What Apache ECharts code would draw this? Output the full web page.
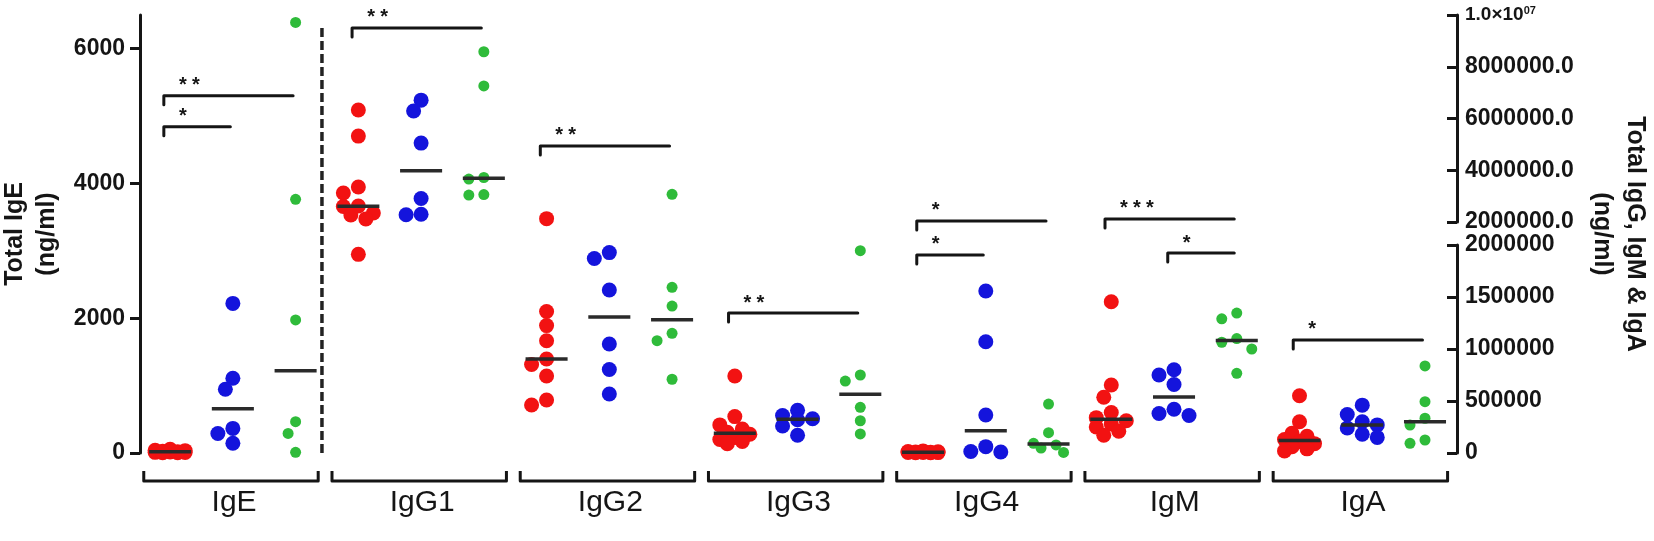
<!DOCTYPE html>
<html><head><meta charset="utf-8">
<script src="https://cdn.jsdelivr.net/npm/echarts@6/dist/echarts.min.js"></script>
<style>html,body{margin:0;padding:0;background:#fff}#c{width:1654px;height:541px}</style>
</head><body><div id="c"></div>
<script>
// ---------- data (ng/ml) ----------
const isotypes = ['IgE', 'IgG1', 'IgG2', 'IgG3', 'IgG4', 'IgM', 'IgA'];

const IgE_red   = [55, 40, 35, 25, 20, 15, 10, 8, 5, 3];
const IgE_blue  = [2220, 1110, 945, 365, 290, 145];
const IgE_green = [6390, 3765, 1975, 465, 290, 10];

const IgG1_red   = [6330000, 5320000, 3350000, 3120000, 2620000, 2600000, 2350000, 2270000, 2120000, 1910000];
const IgG1_blue  = [6710000, 6290000, 5050000, 2910000, 2300000, 2280000];
const IgG1_green = [8580000, 7260000, 3720000, 3660000, 3060000, 3040000];

const IgG2_red   = [2130000, 1360000, 1225000, 1080000, 904000, 851000, 740000, 510000, 462000];
const IgG2_blue  = [1927000, 1870000, 1567000, 1048000, 803000, 567000];
const IgG2_green = [3070000, 1593000, 1413000, 1151000, 1080000, 709000];

const IgG3_red   = [740000, 350000, 270000, 230000, 200000, 180000, 150000, 130000, 110000, 90000];
const IgG3_blue  = [410000, 360000, 330000, 320000, 260000, 170000];
const IgG3_green = [1945000, 750000, 692000, 439000, 310000, 183000];

const IgG4_red   = [20000, 15000, 12000, 10000, 8000, 6000, 5000, 4000, 3000, 2000];
const IgG4_blue  = [1558000, 1070000, 365000, 61000, 15000, 10000];
const IgG4_green = [471000, 195000, 93000, 78000, 48000, 5000];

const IgM_red   = [1455000, 654000, 536000, 390000, 340000, 310000, 280000, 250000, 210000, 170000];
const IgM_blue  = [800000, 750000, 658000, 420000, 380000, 360000];
const IgM_green = [1346000, 1290000, 1100000, 1065000, 1000000, 766000];

const IgA_red   = [550000, 300000, 190000, 160000, 130000, 110000, 90000, 60000, 40000, 20000];
const IgA_blue  = [460000, 370000, 300000, 270000, 240000, 180000, 150000];
const IgA_green = [837000, 493000, 334000, 269000, 125000, 93000];

// significance comparisons
const sigIsotype = ['IgE', 'IgE', 'IgG1', 'IgG2', 'IgG3', 'IgG4', 'IgG4', 'IgM', 'IgM', 'IgA'];
const sigFrom    = [0, 0, 0, 0, 0, 0, 0, 0, 1, 0];
const sigTo      = [2, 1, 2, 2, 2, 2, 1, 2, 2, 2];
const sigLevel   = [5300, 4840, 9500000, 4940000, 1346000, 2040000, 1904000, 2120000, 1923000, 1087000];
const sigStars   = ['**', '*', '**', '**', '**', '*', '*', '***', '*', '*'];

// axis ticks
const leftTicks = [0, 2000, 4000, 6000];
const rightUpperTicks = [2000000, 4000000, 6000000, 8000000, 10000000];
const rightLowerTicks = [0, 500000, 1000000, 1500000, 2000000];

// ---------- build ----------
const table = {
  IgE: [IgE_red, IgE_blue, IgE_green], IgG1: [IgG1_red, IgG1_blue, IgG1_green],
  IgG2: [IgG2_red, IgG2_blue, IgG2_green], IgG3: [IgG3_red, IgG3_blue, IgG3_green],
  IgG4: [IgG4_red, IgG4_blue, IgG4_green], IgM: [IgM_red, IgM_blue, IgM_green],
  IgA: [IgA_red, IgA_blue, IgA_green]
};
const COLORS = ['#f21212', '#1414dc', '#2fbb3a'];
const SIZES = [15, 15, 11];
const INK = '#151515';
const FONT = '"Liberation Sans", Arial, sans-serif';
const BREAK = 2000000;
const X_MIN = -0.48, X_MAX = 20.51;

const columns = [];
isotypes.forEach((iso, g) => table[iso].forEach((vals, c) =>
  columns.push({ col: 3 * g + c, cohort: c, left: iso === 'IgE', values: vals })));

function gridOf(left, v) { return left ? 0 : (v > BREAK ? 1 : 2); }
function median(a) {
  const s = a.slice().sort((x, y) => x - y); const n = s.length;
  return n % 2 ? s[(n - 1) / 2] : (s[n / 2 - 1] + s[n / 2]) / 2;
}

function pointSeries(offsets) {
  const out = [];
  for (let c = 0; c < 3; c++) for (let gi = 0; gi < 3; gi++) {
    const data = [];
    columns.filter(k => k.cohort === c).forEach(k => k.values.forEach((v, i) => {
      if (gridOf(k.left, v) === gi) data.push([k.col + (offsets ? offsets[k.col][i] : 0), v]);
    }));
    out.push({ type: 'scatter', xAxisIndex: gi, yAxisIndex: gi, data, symbolSize: SIZES[c],
      itemStyle: { color: COLORS[c], opacity: 1 }, clip: false, z: 2, silent: true, animation: false });
  }
  return out;
}

function medianSeries(gi) {
  const items = columns.map(k => [k.col, median(k.values), k.left])
    .filter(o => gridOf(o[2], o[1]) === gi).map(o => [o[0], o[1]]);
  return { type: 'custom', xAxisIndex: gi, yAxisIndex: gi, z: 5, silent: true, animation: false, data: items,
    renderItem(p, api) {
      const a = api.coord([api.value(0) - 0.335, api.value(1)]);
      const b = api.coord([api.value(0) + 0.335, api.value(1)]);
      return { type: 'line', shape: { x1: a[0], y1: a[1], x2: b[0], y2: b[1] }, style: { stroke: '#2a2a2a', lineWidth: 3.5 } };
    } };
}

function sigSeries(gi) {
  const items = [];
  sigIsotype.forEach((iso, i) => {
    const g = isotypes.indexOf(iso);
    const gridI = iso === 'IgE' ? 0 : (sigLevel[i] > BREAK ? 1 : 2);
    if (gridI !== gi) return;
    items.push({ from: 3 * g + sigFrom[i] - 0.1, to: 3 * g + sigTo[i] - 0.04, level: sigLevel[i], stars: sigStars[i] });
  });
  return { type: 'custom', xAxisIndex: gi, yAxisIndex: gi, z: 4, silent: true, animation: false,
    data: items.map(s => [s.from, s.level, s.to]),
    renderItem(p, api) {
      const s = items[p.dataIndex];
      const a = api.coord([api.value(0), api.value(1)]);
      const b = api.coord([api.value(2), api.value(1)]);
      const children = [{ type: 'polyline', shape: { points: [[a[0], a[1] + 9], [a[0], a[1]], [b[0], b[1]]] },
        style: { stroke: INK, lineWidth: 3, fill: null, lineJoin: 'round', lineCap: 'round' } }];
      const sx = api.coord([s.from + 0.24, s.level])[0];
      for (let k = 0; k < s.stars.length; k++) {
        children.push({ type: 'text', x: sx + k * 13, y: a[1] - 10,
          style: { text: '*', fontSize: 20, fontWeight: 'bold', fontFamily: FONT, fill: INK, align: 'left', verticalAlign: 'middle' } });
      }
      return { type: 'group', children };
    } };
}

const groupBracket = {
  type: 'custom', xAxisIndex: 0, yAxisIndex: 0, z: 3, silent: true, animation: false,
  data: isotypes.map((_, g) => [3 * g - 0.42, 0, 3 * g + 2.36]),
  renderItem(p, api) {
    const a = api.coord([api.value(0), 0]), b = api.coord([api.value(2), 0]);
    return { type: 'polyline', shape: { points: [[a[0], a[1] + 18], [a[0], a[1] + 28], [b[0], b[1] + 28], [b[0], b[1] + 18]] },
      style: { stroke: INK, lineWidth: 3, fill: null, lineJoin: 'round' } };
  }
};

const divider = {
  type: 'line', xAxisIndex: 0, yAxisIndex: 0, data: [[2.42, 0], [2.42, 6350]], symbol: 'none', silent: true,
  animation: false, lineStyle: { color: '#222', width: 3.5, type: [9, 4] }, z: 3
};

const axisLine = { show: true, onZero: false, lineStyle: { color: INK, width: 3 } };
const tickLabelStyle = { fontSize: 23, fontWeight: 'bold', color: INK, fontFamily: FONT };
const gridBase = { left: 140, right: 197, containLabel: false, outerBoundsMode: 'none' };

function buildOption(offsets) {
  return {
    backgroundColor: '#fff',
    animation: false,
    grid: [
      Object.assign({ top: 15, bottom: 88 }, gridBase),
      Object.assign({ top: 15, height: 207 }, gridBase),
      Object.assign({ top: 245, bottom: 88 }, gridBase)
    ],
    xAxis: [0, 1, 2].map(i => ({ type: 'value', gridIndex: i, min: X_MIN, max: X_MAX, show: false, position: 'top' }))
      .concat([{ type: 'category', gridIndex: 0, data: isotypes, position: 'bottom',
        axisLine: { show: false }, axisTick: { show: false },
        axisLabel: { fontSize: 30, color: INK, margin: 35, fontFamily: FONT } }]),
    yAxis: [
      { type: 'value', gridIndex: 0, position: 'left', min: 0, max: 6500, axisLine,
        axisTick: { show: true, length: 10, lineStyle: { color: INK, width: 3 }, customValues: leftTicks },
        axisLabel: Object.assign({ customValues: leftTicks, margin: 15, formatter: v => String(v) }, tickLabelStyle),
        splitLine: { show: false },
        name: 'Total IgE\n(ng/ml)', nameLocation: 'middle', nameRotate: 90, nameGap: 71,
        nameTextStyle: { fontSize: 25, fontWeight: 'bold', lineHeight: 32, color: INK, fontFamily: FONT } },
      { type: 'value', gridIndex: 1, position: 'right', min: 2000000, max: 10000000, axisLine,
        axisTick: { show: true, inside: true, length: 10, lineStyle: { color: INK, width: 3 }, customValues: rightUpperTicks },
        axisLabel: Object.assign({ customValues: rightUpperTicks, margin: 8,
          formatter: v => v === 10000000 ? '{m|1.0×10}{e|07}' : v.toFixed(1),
          rich: { m: { fontSize: 19, fontWeight: 'bold', fontFamily: FONT, color: INK },
                  e: { fontSize: 11, fontWeight: 'bold', fontFamily: FONT, color: INK, verticalAlign: 'top' } } }, tickLabelStyle),
        splitLine: { show: false } },
      { type: 'value', gridIndex: 2, position: 'right', min: 0, max: 2000000, axisLine,
        axisTick: { show: true, inside: true, length: 10, lineStyle: { color: INK, width: 3 }, customValues: rightLowerTicks },
        axisLabel: Object.assign({ customValues: rightLowerTicks, margin: 8, formatter: v => String(v) }, tickLabelStyle),
        splitLine: { show: false } },
      { type: 'value', gridIndex: 0, position: 'right', min: 0, max: 1,
        axisLine: { show: false }, axisTick: { show: false }, axisLabel: { show: false }, splitLine: { show: false },
        name: 'Total IgG, IgM & IgA\n(ng/ml)', nameLocation: 'middle', nameRotate: -90, nameGap: 128,
        nameTextStyle: { fontSize: 25, fontWeight: 'bold', lineHeight: 33, color: INK, fontFamily: FONT } }
    ],
    series: pointSeries(offsets)
      .concat([medianSeries(0), medianSeries(1), medianSeries(2), sigSeries(0), sigSeries(1), sigSeries(2), groupBracket, divider])
  };
}

// beeswarm placement in pixel space
function swarm(ys, D, step, maxOff) {
  const order = ys.map((y, i) => i).sort((a, b) => ys[a] - ys[b]);
  const placed = [], off = new Array(ys.length).fill(0);
  const cands = [0];
  for (let s = step; s <= maxOff + 1e-6; s += step) cands.push(-s, s);
  order.forEach(i => {
    let best = 0, bestScore = -Infinity;
    for (const dx of cands) {
      let minD = Infinity;
      placed.forEach(p => { const d = Math.hypot(dx - p.x, ys[i] - p.y); if (d < minD) minD = d; });
      if (minD >= D) { best = dx; break; }
      if (minD > bestScore) { bestScore = minD; best = dx; }
    }
    off[i] = best; placed.push({ x: best, y: ys[i] });
  });
  return off;
}

const chart = echarts.init(document.getElementById('c'), null, { renderer: 'canvas' });
chart.setOption(buildOption(null));
const pxPerCol = chart.convertToPixel({ gridIndex: 0 }, [1, 0])[0] - chart.convertToPixel({ gridIndex: 0 }, [0, 0])[0];
const offsets = {};
columns.forEach(k => {
  const ys = k.values.map(v => chart.convertToPixel({ gridIndex: gridOf(k.left, v) }, [k.col, v])[1]);
  offsets[k.col] = swarm(ys, 13, 7.5, 15).map(px => px / pxPerCol);
});
chart.setOption(buildOption(offsets), true);
</script></body></html>
